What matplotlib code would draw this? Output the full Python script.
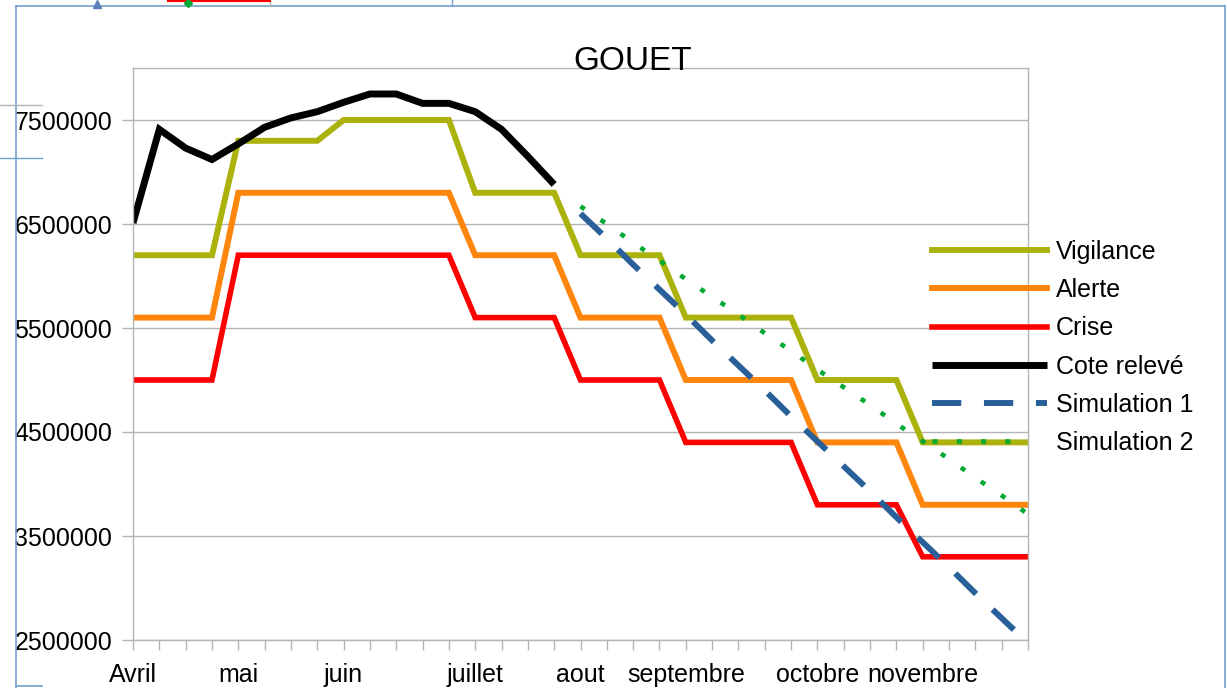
import numpy as np
import matplotlib
matplotlib.use("Agg")
import matplotlib.pyplot as plt
from matplotlib.lines import Line2D
from matplotlib.ticker import FuncFormatter

plt.rcParams['font.family'] = ['Liberation Sans', 'DejaVu Sans']

# ---------------- data ----------------
n_cat = 35
month_labels = {0: "Avril", 4: "mai", 8: "juin", 13: "juillet", 17: "aout",
                21: "septembre", 26: "octobre", 30: "novembre"}

vigilance = [6.2e6, 6.2e6, 6.2e6, 6.2e6, 7.3e6, 7.3e6, 7.3e6, 7.3e6, 7.5e6, 7.5e6,
             7.5e6, 7.5e6, 7.5e6, 6.8e6, 6.8e6, 6.8e6, 6.8e6, 6.2e6, 6.2e6, 6.2e6,
             6.2e6, 5.6e6, 5.6e6, 5.6e6, 5.6e6, 5.6e6, 5.0e6, 5.0e6, 5.0e6, 5.0e6,
             4.4e6, 4.4e6, 4.4e6, 4.4e6, 4.4e6]
alerte = [5.6e6, 5.6e6, 5.6e6, 5.6e6, 6.8e6, 6.8e6, 6.8e6, 6.8e6, 6.8e6, 6.8e6,
          6.8e6, 6.8e6, 6.8e6, 6.2e6, 6.2e6, 6.2e6, 6.2e6, 5.6e6, 5.6e6, 5.6e6,
          5.6e6, 5.0e6, 5.0e6, 5.0e6, 5.0e6, 5.0e6, 4.4e6, 4.4e6, 4.4e6, 4.4e6,
          3.8e6, 3.8e6, 3.8e6, 3.8e6, 3.8e6]
crise = [5.0e6, 5.0e6, 5.0e6, 5.0e6, 6.2e6, 6.2e6, 6.2e6, 6.2e6, 6.2e6, 6.2e6,
         6.2e6, 6.2e6, 6.2e6, 5.6e6, 5.6e6, 5.6e6, 5.6e6, 5.0e6, 5.0e6, 5.0e6,
         5.0e6, 4.4e6, 4.4e6, 4.4e6, 4.4e6, 4.4e6, 3.8e6, 3.8e6, 3.8e6, 3.8e6,
         3.3e6, 3.3e6, 3.3e6, 3.3e6, 3.3e6]
cote_start = 0
cote_releve = [6.51e6, 7.41e6, 7.23e6, 7.12e6, 7.27e6, 7.43e6, 7.52e6, 7.58e6, 7.67e6,
               7.75e6, 7.75e6, 7.66e6, 7.66e6, 7.58e6, 7.41e6, 7.15e6, 6.88e6]
sim_start = 17
simulation1 = [6.60e6, 6.36e6, 6.11e6, 5.87e6, 5.63e6, 5.38e6, 5.14e6, 4.90e6, 4.65e6,
               4.41e6, 4.17e6, 3.93e6, 3.68e6, 3.44e6, 3.20e6, 2.95e6, 2.71e6, 2.47e6]
simulation2 = [6.67e6, 6.50e6, 6.32e6, 6.15e6, 5.97e6, 5.80e6, 5.63e6, 5.45e6, 5.28e6,
               5.10e6, 4.93e6, 4.76e6, 4.58e6, 4.41e6, 4.24e6, 4.06e6, 3.89e6, 3.71e6]
y_ticks = [2.5e6, 3.5e6, 4.5e6, 5.5e6, 6.5e6, 7.5e6]

# ---------------- figure ----------------
W, H = 1227, 688
fig = plt.figure(figsize=(W / 100, H / 100), dpi=100)
fig.patch.set_facecolor("white")
ax = fig.add_axes([133 / W, (H - 640) / H, 895 / W, 572 / H])

x = np.arange(n_cat)
grid_c = "#b3b3b3"

ax.plot(x, vigilance, color="#acb20c", lw=4.3, label="Vigilance", solid_joinstyle="miter")
ax.plot(x, alerte, color="#ff860d", lw=4.3, label="Alerte", solid_joinstyle="miter")
ax.plot(x, crise, color="#ff0000", lw=4.0, label="Crise", solid_joinstyle="miter")
xc = np.arange(cote_start, cote_start + len(cote_releve))
ax.plot(xc, cote_releve, color="#000000", lw=5.0, label="Cote relevé",
        solid_joinstyle="miter", solid_capstyle="butt")
xs = np.arange(sim_start, sim_start + len(simulation1))
ax.plot(xs, simulation1, color="#2a6099", lw=4.3, dashes=(4.9, 3.8),
        dash_capstyle="butt", label="Simulation 1")
ax.plot(xs, simulation2, color="#00a933", lw=3.3, dashes=(1.1, 4.2),
        dash_capstyle="butt", label="Simulation 2")

ax.set_xlim(0, n_cat - 1)
ax.set_ylim(2.5e6, 8.0e6)
ax.set_yticks(y_ticks)
ax.yaxis.set_major_formatter(FuncFormatter(lambda v, p: f"{int(round(v))}"))
ax.set_xticks(x)
ax.set_xticklabels([month_labels.get(i, "") for i in x])

ax.grid(axis="y", color=grid_c, lw=1.0)
ax.set_axisbelow(True)
for s in ax.spines.values():
    s.set_color(grid_c)
    s.set_linewidth(1.0)
ax.tick_params(axis="both", direction="out", color=grid_c, width=1.0, labelsize=18,
               labelcolor="black")
ax.tick_params(axis="y", length=8, pad=7)
ax.tick_params(axis="x", length=7.5, pad=9)

# title
fig.text(633 / W, 1 - 61 / H, "GOUET", fontsize=24, ha="center", va="center")

# legend
leg = fig.legend(loc="upper left", bbox_to_anchor=(932 / W, 1 - 240 / H),
                 frameon=False, fontsize=18, handlelength=4.6, handletextpad=0.36,
                 labelspacing=0.57, borderpad=0, borderaxespad=0)
# the Simulation 2 sample only shows inside the plot area
lines = leg.get_lines()
lines[5].set_clip_box(ax.bbox)
lines[5].set_clip_on(True)


# ---------------- spreadsheet frame / handles ----------------
def fx(px):
    return px / W


def fy(py):
    return 1 - py / H


frame_c = "#729fcf"
fig.add_artist(Line2D([fx(16), fx(16)], [fy(6), fy(688)], color=frame_c, lw=1.2))
fig.add_artist(Line2D([fx(16), fx(1225)], [fy(6), fy(6)], color=frame_c, lw=1.2))
fig.add_artist(Line2D([fx(1225), fx(1225)], [fy(6), fy(688)], color=frame_c, lw=1.2))
fig.add_artist(Line2D([fx(0), fx(42)], [fy(105), fy(105)], color=grid_c, lw=1.0))
fig.add_artist(Line2D([fx(0), fx(42)], [fy(158), fy(158)], color=frame_c, lw=1.0))
fig.add_artist(Line2D([fx(16), fx(42)], [fy(686), fy(686)], color=frame_c, lw=1.2))
fig.add_artist(Line2D([fx(270), fx(270)], [fy(0), fy(6)], color=grid_c, lw=1.0))
fig.add_artist(Line2D([fx(452), fx(452)], [fy(0), fy(6)], color=frame_c, lw=1.0))
fig.add_artist(Line2D([fx(168), fx(270)], [fy(0.5), fy(0.5)], color="#ff0000", lw=1.5))
fig.add_artist(Line2D([fx(97)], [fy(4)], marker="^", color="#5b7fb8", ms=6, lw=0))
fig.add_artist(Line2D([fx(188)], [fy(3)], marker="D", color="#00a933", ms=4, lw=0))

fig.savefig("out.png", dpi=100)
